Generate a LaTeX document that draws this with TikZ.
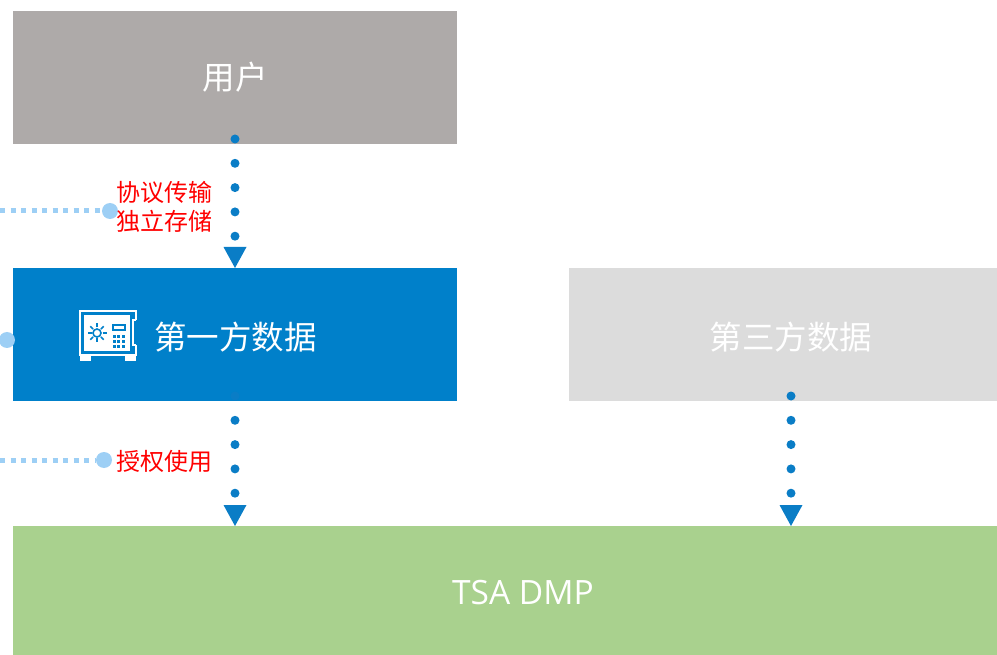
\documentclass[tikz,border=0pt]{standalone}
\usepackage{fontspec}
\setmainfont{Open Sans}
\newfontfamily\cjk{Noto Sans CJK SC}
\usetikzlibrary{arrows.meta}
\definecolor{cgrey}{HTML}{AEAAA9}
\definecolor{cblue}{HTML}{0080CA}
\definecolor{clight}{HTML}{DCDCDC}
\definecolor{cgreen}{HTML}{A9D18E}
\definecolor{cdot}{HTML}{0A7DC6}
\definecolor{clb}{HTML}{9DCFF5}
\begin{document}
\begin{tikzpicture}[x=1pt,y=-1pt,
  box/.style={rectangle, inner sep=0pt, outer sep=0pt, minimum height=133pt, text=white, font=\cjk\fontsize{32.5}{38}\selectfont},
  dotarrow/.style={draw=cdot, line width=9pt, line cap=round, dash pattern=on 0pt off 24.3pt,
    -{Triangle[width=23pt,length=21pt,line width=0pt]}},
  lbline/.style={draw=clb, line width=5pt, dash pattern=on 5pt off 5.5pt},
  lbdot/.style={circle, fill=clb, inner sep=0pt, minimum size=16pt},
  lbl/.style={text=red, font=\cjk\fontsize{24}{29}\selectfont, inner sep=0pt, anchor=west, align=left}
]
\clip (0,0) rectangle (997,655);
% boxes
\node[box, fill=cgrey, minimum width=444pt] (user) at (235,77.5) {用户};
\node[box, fill=cblue, minimum width=444pt] (first) at (235,334.5) {};
\node[box, fill=clight, minimum width=444pt] (third) at (791,334.5) {\raisebox{-3pt}[28.6pt][3.9pt]{第三方数据}};
\node[box, fill=cgreen, minimum width=1020pt, minimum height=134pt, font=\fontsize{33.5}{40}\selectfont] (dmp) at (523,593) {TSA DMP};
\node[anchor=west, text=white, inner sep=0pt, font=\cjk\fontsize{32.5}{38}\selectfont] (firsttxt) at (154,337) {第一方数据};
% safe icon
\draw[white, line width=2.2pt] (136,320) -- (136,311) -- (80,311) -- (80,355) -- (136,355) -- (136,345);
\draw[white, line width=1.8pt] (136,320) -- (133,320) -- (133,345) -- (136,345);
\fill[white] (84,315) rectangle (130,351);
\fill[white] (80,355) rectangle (91,361);
\fill[white] (125,355) rectangle (136,361);
\draw[cblue, line width=1.6pt] (97,333) circle (4pt);
\foreach \a in {0,45,...,315}
  \draw[cblue, line width=1.6pt, shift={(97,333)}] (\a:5.5) -- (\a:9.5);
\draw[cblue, line width=1.2pt] (113,325) rectangle (125,330);
\foreach \i in {0,1,2}
  \foreach \j in {0,1,2}
    \fill[cblue] (113+4.3*\i,335+5*\j) rectangle +(3,2.8);
% arrows
\draw[dotarrow] ([yshift=5pt]user.south) -- (first.north);
\draw[dotarrow] ([yshift=5pt]first.south) -- (first.south |- dmp.north);
\draw[dotarrow] ([yshift=5pt]third.south) -- (third.south |- dmp.north);
% left light blue markers
\coordinate (l1) at (0,211);
\node[lbdot] (c1) at (110,211) {};
\draw[lbline] (l1) -- (c1);
\node[lbdot] (c2) at (7,340) {};
\coordinate (l3) at (0,460);
\node[lbdot] (c3) at (104,460) {};
\draw[lbline] (l3) -- (c3);
% labels
\node[lbl] (lab1) at (116,207) {协议传输\\独立存储};
\node[lbl] (lab2) at (116,461) {授权使用};
\end{tikzpicture}
\end{document}
